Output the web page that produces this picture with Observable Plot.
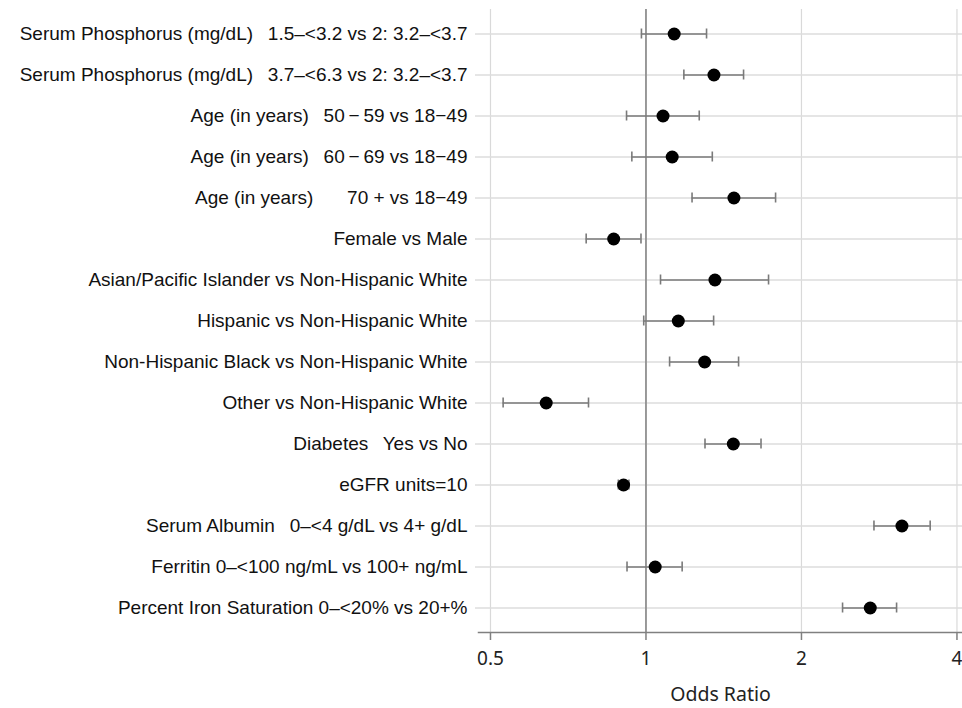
<!DOCTYPE html>
<html>
<head>
<meta charset="utf-8">
<script src="https://cdn.jsdelivr.net/npm/d3@7"></script>
<script src="https://cdn.jsdelivr.net/npm/@observablehq/plot@0.6"></script>
<style>
  html, body { margin: 0; padding: 0; background: #fff; }
</style>
</head>
<body>
<div id="chart"></div>
<script>
const labels = [
  "Serum Phosphorus (mg/dL)\u2002 1.5\u2013<3.2 vs 2: 3.2\u2013<3.7",
  "Serum Phosphorus (mg/dL)\u2002 3.7\u2013<6.3 vs 2: 3.2\u2013<3.7",
  "Age (in years)\u2002 50\u2009\u2212\u200959 vs 18\u221249",
  "Age (in years)\u2002 60\u2009\u2212\u200969 vs 18\u221249",
  "Age (in years)\u2002\u2002\u2002 70 + vs 18\u221249",
  "Female vs Male",
  "Asian/Pacific Islander vs Non-Hispanic White",
  "Hispanic vs Non-Hispanic White",
  "Non-Hispanic Black vs Non-Hispanic White",
  "Other vs Non-Hispanic White",
  "Diabetes\u2002 Yes vs No",
  "eGFR units=10",
  "Serum Albumin\u2002 0\u2013<4 g/dL vs 4+ g/dL",
  "Ferritin 0\u2013<100 ng/mL vs 100+ ng/mL",
  "Percent Iron Saturation 0\u2013<20% vs 20+%"
];
const oddsRatio = [1.134, 1.354, 1.079, 1.124, 1.48, 0.866, 1.36, 1.155, 1.299, 0.641, 1.476, 0.905, 3.13, 1.042, 2.718];
const lower     = [0.98, 1.184, 0.917, 0.939, 1.228, 0.766, 1.067, 0.99, 1.111, 0.529, 1.301, 0.884, 2.763, 0.919, 2.402];
const upper     = [1.31, 1.545, 1.268, 1.344, 1.782, 0.978, 1.727, 1.352, 1.511, 0.774, 1.67, 0.927, 3.55, 1.175, 3.056];
const xTicks = [0.5, 1, 2, 4];

const data = labels.map((label, i) => ({label, or: oddsRatio[i], lo: lower[i], hi: upper[i]}));

const chart = Plot.plot({
  width: 962,
  height: 708,
  marginTop: 9,
  marginBottom: 76,
  marginLeft: 478,
  marginRight: 0,
  style: {fontFamily: "Liberation Sans, Arial, sans-serif", background: "#fff"},
  x: {type: "log", domain: [0.474, 4.1]},
  y: {domain: labels, padding: 0},
  marks: [
    Plot.gridX(xTicks, {stroke: "#d9d9d9", strokeOpacity: 1, strokeWidth: 1.2}),
    Plot.gridY(labels, {stroke: "#dddddd", strokeOpacity: 1, strokeWidth: 1.5}),
    Plot.ruleX([1], {stroke: "#808080", strokeWidth: 1.5}),
    Plot.frame({anchor: "bottom", stroke: "#808080", strokeWidth: 1.5}),
    Plot.axisX({
      ticks: xTicks, tickFormat: d => String(d), tickSize: 8, tickPadding: 11,
      stroke: "#808080", strokeWidth: 1.5, fontSize: 19, fontFamily: "Noto Sans, sans-serif",
      fill: "#222", label: null
    }),
    Plot.axisX({
      ticks: [], label: "Odds Ratio", labelAnchor: "center", labelArrow: "none", labelOffset: 68,
      fontSize: 19.5, fontFamily: "Noto Sans, sans-serif", fill: "#222"
    }),
    Plot.axisY({
      tickSize: 3, tickPadding: 8, stroke: "#cccccc", fontSize: 19, fill: "#111", label: null
    }),
    Plot.ruleY(data, {y: "label", x1: "lo", x2: "hi", stroke: "#7a7a7a", strokeWidth: 1.6}),
    Plot.tickX(data, {y: "label", x: "lo", stroke: "#7a7a7a", strokeWidth: 1.6, insetTop: 15.5, insetBottom: 15.5}),
    Plot.tickX(data, {y: "label", x: "hi", stroke: "#7a7a7a", strokeWidth: 1.6, insetTop: 15.5, insetBottom: 15.5}),
    Plot.dot(data, {y: "label", x: "or", r: 6.5, fill: "#000", stroke: "none"})
  ]
});
document.getElementById("chart").appendChild(chart);
</script>
</body>
</html>
